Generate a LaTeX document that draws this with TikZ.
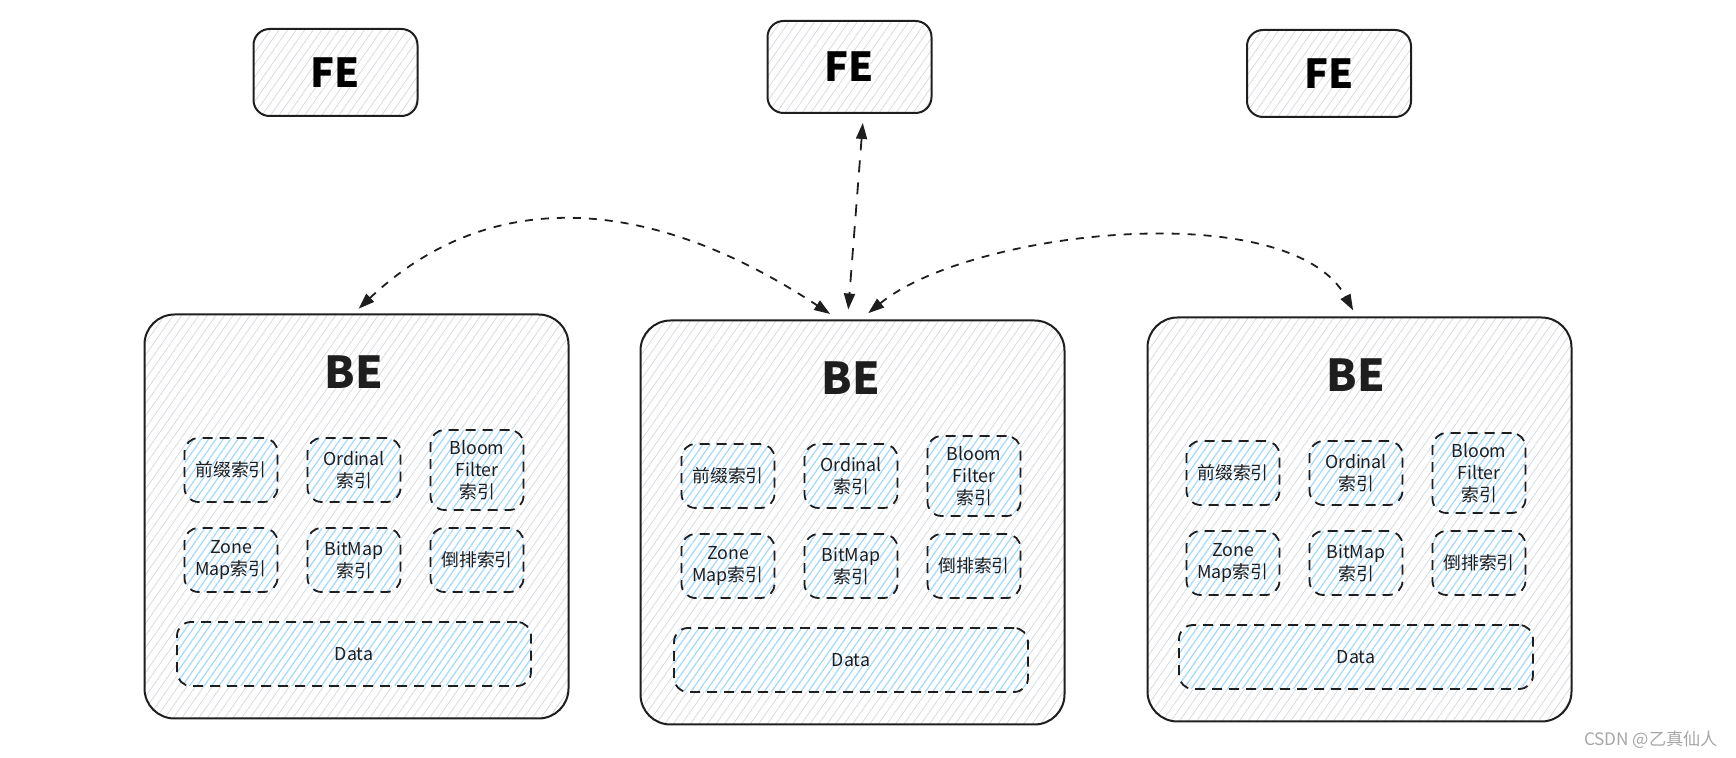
\documentclass[tikz,border=0pt]{standalone}
\usepackage{fontspec}
\setmainfont{Noto Sans CJK SC}
\usetikzlibrary{arrows.meta,patterns.meta}
\definecolor{ink}{HTML}{1E1E1E}
\definecolor{hatchgray}{HTML}{D3D7DC}
\definecolor{hatchblue}{HTML}{A5D8FF}

\begin{document}
\begin{tikzpicture}[x=0.5pt, y=-0.5pt, node distance=61.5pt,
  febox/.style = {draw=ink, line width=1pt, rounded corners=8pt, minimum width=82pt, minimum height=43.5pt,
    pattern={Lines[angle=55,distance=3.5pt,line width=0.35pt]}, pattern color=hatchgray,
    font=\bfseries\fontsize{20}{24}\selectfont},
  bebox/.style = {draw=ink, line width=1pt, rounded corners=15pt, minimum width=212pt, minimum height=202pt,
    pattern={Lines[angle=55,distance=3.5pt,line width=0.35pt]}, pattern color=hatchgray},
  betitle/.style = {font=\bfseries\fontsize{22}{26}\selectfont, text=ink},
  idxbox/.style = {draw=ink, line width=0.9pt, dash pattern=on 5pt off 3.5pt, rounded corners=7pt,
    minimum width=46.5pt, minimum height=32pt, inner sep=0pt, align=center, preaction={fill=white},
    pattern={Lines[angle=55,distance=3pt,line width=0.6pt]}, pattern color=hatchblue,
    font=\fontsize{8.9}{11}\selectfont, text=ink},
  databox/.style = {idxbox, minimum width=177pt},
  arrowline/.style = {draw=ink, line width=0.9pt, dash pattern=on 4pt off 4pt,
    {Triangle[length=8pt,width=5.5pt]}-{Triangle[length=8pt,width=5.5pt]}, shorten <=3.5pt, shorten >=3.5pt}]
  \useasboundingbox (0,0) rectangle (1736,758);

  % FE
  \node[febox] (fe1) at (335.5,72.5) {FE};
  \node[febox, minimum height=46pt] (fe2) at (849.5,67) {FE};
  \node[febox] (fe3) at (1329,73.5) {FE};

  % BE 1
  \node[bebox] (be1) at (356.5,516.5) {};
  \node[idxbox] (p1) at (231,470) {前缀索引};
  \node[idxbox] (o1) [right of=p1] {Ordinal\\索引};
  \node[idxbox, minimum height=40pt] (bf1) [right of=o1] {Bloom\\Filter\\索引};
  \node[idxbox] (z1) [node distance=45pt, below of=p1] {Zone\\Map索引};
  \node[idxbox] (bm1) [right of=z1] {BitMap\\索引};
  \node[idxbox] (dp1) [right of=bm1] {倒排索引};
  \node[databox] (data1) [node distance=47pt, below of=bm1] {Data};
  \node[betitle] (t1) [node distance=49pt, above of=o1] {BE};

  % BE 2
  \node[bebox] (be2) at (852.5,522.5) {};
  \node[idxbox] (p2) at (728,476) {前缀索引};
  \node[idxbox] (o2) [right of=p2] {Ordinal\\索引};
  \node[idxbox, minimum height=40pt] (bf2) [right of=o2] {Bloom\\Filter\\索引};
  \node[idxbox] (z2) [node distance=45pt, below of=p2] {Zone\\Map索引};
  \node[idxbox] (bm2) [right of=z2] {BitMap\\索引};
  \node[idxbox] (dp2) [right of=bm2] {倒排索引};
  \node[databox] (data2) [node distance=47pt, below of=bm2] {Data};
  \node[betitle] (t2) [node distance=49pt, above of=o2] {BE};

  % BE 3
  \node[bebox] (be3) at (1359.5,519.5) {};
  \node[idxbox] (p3) at (1233,473) {前缀索引};
  \node[idxbox] (o3) [right of=p3] {Ordinal\\索引};
  \node[idxbox, minimum height=40pt] (bf3) [right of=o3] {Bloom\\Filter\\索引};
  \node[idxbox] (z3) [node distance=45pt, below of=p3] {Zone\\Map索引};
  \node[idxbox] (bm3) [right of=z3] {BitMap\\索引};
  \node[idxbox] (dp3) [right of=bm3] {倒排索引};
  \node[databox] (data3) [node distance=47pt, below of=bm3] {Data};
  \node[betitle] (t3) [node distance=49pt, above of=o3] {BE};

  % links
  \draw[arrowline, dash pattern=on 6pt off 5pt, shorten <=4.5pt, shorten >=5pt] ([xshift=7pt]fe2.south) -- ([xshift=-2.5pt]be2.north);
  \draw[arrowline, shorten >=5pt] ([xshift=-1.5pt]be1.north) .. controls (490,185) and (650,195) .. ([xshift=-7pt]be2.north);
  \draw[arrowline, shorten <=5pt] ([xshift=4pt]be2.north) .. controls (970,230) and (1290,195) .. ([xshift=-1.5pt]be3.north);

  \node[text=gray!70, font=\fontsize{8.6}{10}\selectfont] (wm) at (1651,740) {CSDN @乙真仙人};
\end{tikzpicture}
\end{document}
